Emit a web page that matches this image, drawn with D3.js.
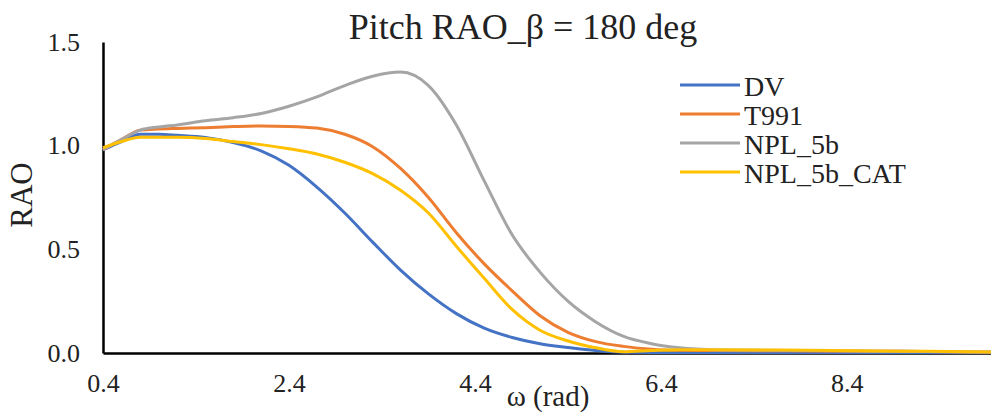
<!DOCTYPE html>
<html>
<head>
<meta charset="utf-8">
<script src="https://cdn.jsdelivr.net/npm/d3@7"></script>
<style>
	body { margin: 0; background: #fff; }
</style>
</head>
<body>
<svg id="chart" width="991" height="420"></svg>
<script>
// frequency (rad) and pitch RAO
var omega = [0.4, 0.6, 0.8, 1.0, 1.2, 1.5, 1.8, 2.1, 2.4, 2.7, 3.0, 3.3, 3.6, 3.9, 4.2, 4.5, 4.8, 5.1, 5.4, 5.7, 6.0, 6.3, 6.6, 7.0, 7.5, 8.0, 8.5, 9.0, 9.5, 9.95];
var dv = [0.98, 1.02, 1.055, 1.055, 1.05, 1.04, 1.015, 0.975, 0.905, 0.80, 0.675, 0.535, 0.40, 0.285, 0.19, 0.12, 0.075, 0.045, 0.027, 0.012, 0.004, 0.003, 0.003, 0.003, 0.003, 0.003, 0.003, 0.003, 0.003, 0.003];
var t991 = [0.98, 1.03, 1.075, 1.08, 1.083, 1.087, 1.092, 1.095, 1.093, 1.085, 1.055, 0.995, 0.89, 0.75, 0.58, 0.43, 0.30, 0.18, 0.10, 0.055, 0.032, 0.018, 0.013, 0.012, 0.011, 0.01, 0.009, 0.008, 0.006, 0.005];
var npl5b = [0.98, 1.03, 1.075, 1.09, 1.10, 1.12, 1.135, 1.155, 1.19, 1.235, 1.29, 1.335, 1.355, 1.29, 1.10, 0.83, 0.57, 0.39, 0.25, 0.15, 0.08, 0.045, 0.025, 0.015, 0.013, 0.012, 0.01, 0.008, 0.006, 0.005];
var npl5bCat = [0.99, 1.02, 1.04, 1.04, 1.04, 1.035, 1.02, 1.005, 0.985, 0.96, 0.92, 0.865, 0.785, 0.675, 0.515, 0.36, 0.21, 0.11, 0.058, 0.025, 0.006, 0.012, 0.016, 0.016, 0.015, 0.013, 0.011, 0.009, 0.007, 0.005];

var seriesNames = ["DV", "T991", "NPL_5b", "NPL_5b_CAT"];
var seriesValues = [dv, t991, npl5b, npl5bCat];
var xTicks = [0.4, 2.4, 4.4, 6.4, 8.4];
var yTicks = [0, 0.5, 1.0, 1.5];

var colors = ["#4472C4", "#ED7D31", "#A5A5A5", "#FFC000"];

var svg = d3.select("#chart");

var x = d3.scaleLinear().domain([0.4, 9.95]).range([103, 991]);
var y = d3.scaleLinear().domain([0, 1.5]).range([353, 42]);

var line = d3.line()
	.x(function(d) { return x(d[0]); })
	.y(function(d) { return y(d[1]); })
	.curve(d3.curveMonotoneX);

// axes
svg.append("g")
	.attr("transform", "translate(0," + y(0) + ")")
	.call(d3.axisBottom(x).tickValues(xTicks).tickSize(0).tickPadding(21)
		.tickFormat(d3.format(".1f")));
svg.append("g")
	.attr("transform", "translate(" + x(0.4) + ",0)")
	.call(d3.axisLeft(y).tickValues(yTicks).tickSize(0).tickPadding(23)
		.tickFormat(d3.format(".1f")));

svg.selectAll(".domain")
	.attr("stroke", "#000")
	.attr("stroke-width", 2.5);
svg.selectAll(".tick text")
	.style("font-size", "26px");

// series
seriesValues.forEach(function(vals, i) {
	var pts = omega.map(function(w, j) { return [w, vals[j]]; });
	svg.append("path")
		.datum(pts)
		.attr("d", line)
		.attr("fill", "none")
		.attr("stroke", colors[i])
		.attr("stroke-width", 3)
		.attr("stroke-linejoin", "round");
});

// titles
svg.append("text")
	.text("Pitch RAO_β = 180 deg")
	.attr("x", 523)
	.attr("y", 39)
	.attr("text-anchor", "middle")
	.style("font-size", "36px");

svg.append("text")
	.text("ω (rad)")
	.attr("x", 548)
	.attr("y", 406)
	.attr("text-anchor", "middle")
	.style("font-size", "29px");

svg.append("text")
	.text("RAO")
	.attr("transform", "translate(32,195) rotate(-90)")
	.attr("text-anchor", "middle")
	.style("font-size", "31px");

// legend
var legend = svg.append("g");
seriesNames.forEach(function(name, i) {
	var ly = 85 + i * 29;
	legend.append("line")
		.attr("x1", 680).attr("x2", 740)
		.attr("y1", ly).attr("y2", ly)
		.attr("stroke", colors[i])
		.attr("stroke-width", 3);
	legend.append("text")
		.text(name)
		.attr("x", 744)
		.attr("y", ly + 11)
		.style("font-size", "28px");
});

svg.selectAll("g").attr("font-family", null);
svg.selectAll("text")
	.style("font-family", "'Liberation Serif'")
	.attr("fill", "#222");
</script>
</body>
</html>
